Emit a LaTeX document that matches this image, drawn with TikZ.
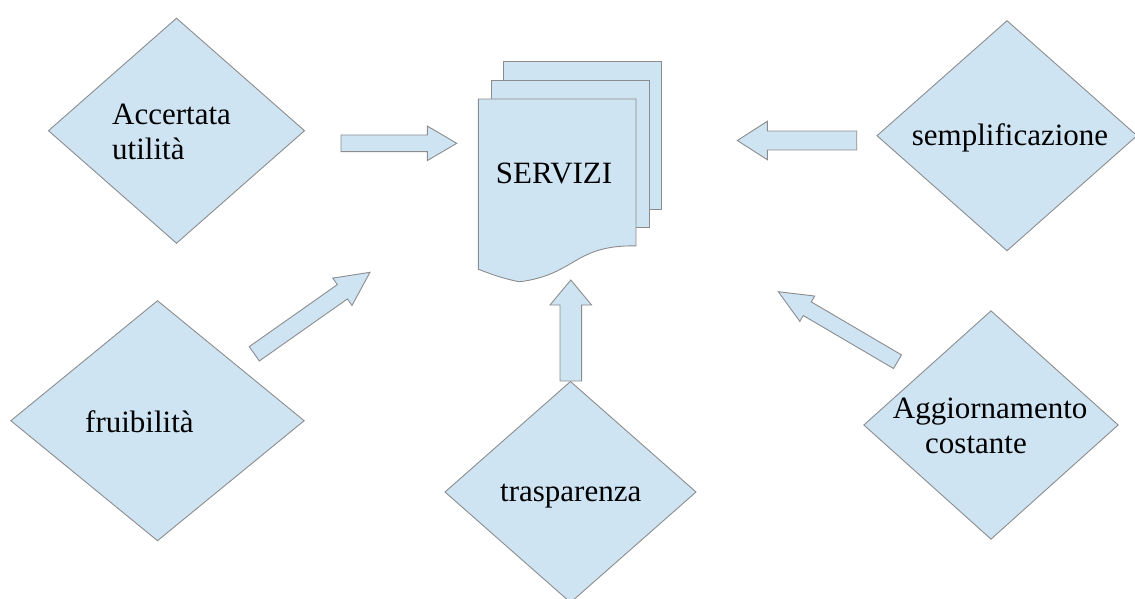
\documentclass[tikz,border=0pt]{standalone}
\usepackage{fontspec}
\setmainfont{Liberation Serif}
\usetikzlibrary{shapes.geometric,calc}
\definecolor{boxfill}{RGB}{207,228,243}
\definecolor{boxline}{RGB}{140,140,140}
\tikzset{
  shapeline/.style={draw=boxline, fill=boxfill, line width=0.9pt, line join=miter},
  rhombus/.style={shapeline, diamond, inner sep=0pt, outer sep=0pt},
  diagtext/.style={font=\fontsize{31}{35}\selectfont, inner sep=0pt, align=left, anchor=base west},
}
% block arrow: tail, tip, shaft half width, head half width, head length
\newcommand\blockarrow[5]{%
  \path ($(#2)!#5!(#1)$) coordinate (ba-base);
  \draw[shapeline] ($(#1)!#3!90:(#2)$) -- ($(ba-base)!#3!90:(#2)$)
    -- ($(ba-base)!#4!90:(#2)$) -- (#2) -- ($(ba-base)!#4!-90:(#2)$)
    -- ($(ba-base)!#3!-90:(#2)$) -- ($(#1)!#3!-90:(#2)$) -- cycle;
}
\begin{document}
\begin{tikzpicture}[x=1pt,y=-1pt]
\useasboundingbox (0,0) rectangle (1135,599);

% stack of documents
\draw[shapeline] (503.7,61.7) rectangle (661.7,209.3);
\draw[shapeline] (491,80) rectangle (649.3,227.7);
\draw[shapeline] (478.3,99) -- (636,99) -- (636,245.9)
  .. controls (573.6,244.7) and (575.7,274.8) .. (519.3,281.8)
  .. controls (499.2,277.6) and (491.8,274.2) .. (478.3,269.3) -- cycle;
\node[diagtext] (servizi) at (495.7,183.3) {SERVIZI};

% diamonds
\node[rhombus, minimum width=256pt, minimum height=225pt] (accertata) at (176.5,130.7) {};
\node[rhombus, minimum width=293.3pt, minimum height=240pt] (fruibilita) at (157.5,420.7) {};
\node[rhombus, minimum width=251pt, minimum height=221pt] (trasparenza) at (570.5,492) {};
\node[rhombus, minimum width=260pt, minimum height=230pt] (semplificazione) at (1007,135.7) {};
\node[rhombus, minimum width=254.3pt, minimum height=228.3pt] (aggiornamento) at (991,425) {};

% labels (multi-line labels are placed by the baseline of their last line)
\node[diagtext] (t-accertata) at (112,160) {Accertata\\utilità};
\node[diagtext] (t-fruibilita) at (85,432.7) {fruibilità};
\node[diagtext] (t-trasparenza) at (500,501.7) {trasparenza};
\node[diagtext] (t-semplificazione) at (911.7,145.7) {semplificazione};
\node[diagtext] (t-aggiornamento) at (892.7,453.3) {Aggiornamento\\\hspace*{32.3pt}costante};

% block arrows towards the services
\coordinate (a1-tail) at (341,143.3);   \coordinate (a1-tip) at (456.7,143.3);
\coordinate (a2-tail) at (856.7,140.5); \coordinate (a2-tip) at (737.3,140.5);
\coordinate (a3-tail) at (570.8,381);   \coordinate (a3-tip) at (570.8,280);
\coordinate (a4-tail) at (254.3,353.8); \coordinate (a4-tip) at (370,272.3);
\coordinate (a5-tail) at (897.5,361.7); \coordinate (a5-tip) at (778.3,291.7);
\blockarrow{a1-tail}{a1-tip}{8.3pt}{17.3pt}{29.4pt}
\blockarrow{a2-tail}{a2-tip}{9.5pt}{19.2pt}{30pt}
\blockarrow{a3-tail}{a3-tip}{10.8pt}{20.8pt}{25pt}
\blockarrow{a4-tail}{a4-tip}{8.75pt}{16.7pt}{33.8pt}
\blockarrow{a5-tail}{a5-tip}{7.9pt}{14.7pt}{33.6pt}
\end{tikzpicture}
\end{document}
